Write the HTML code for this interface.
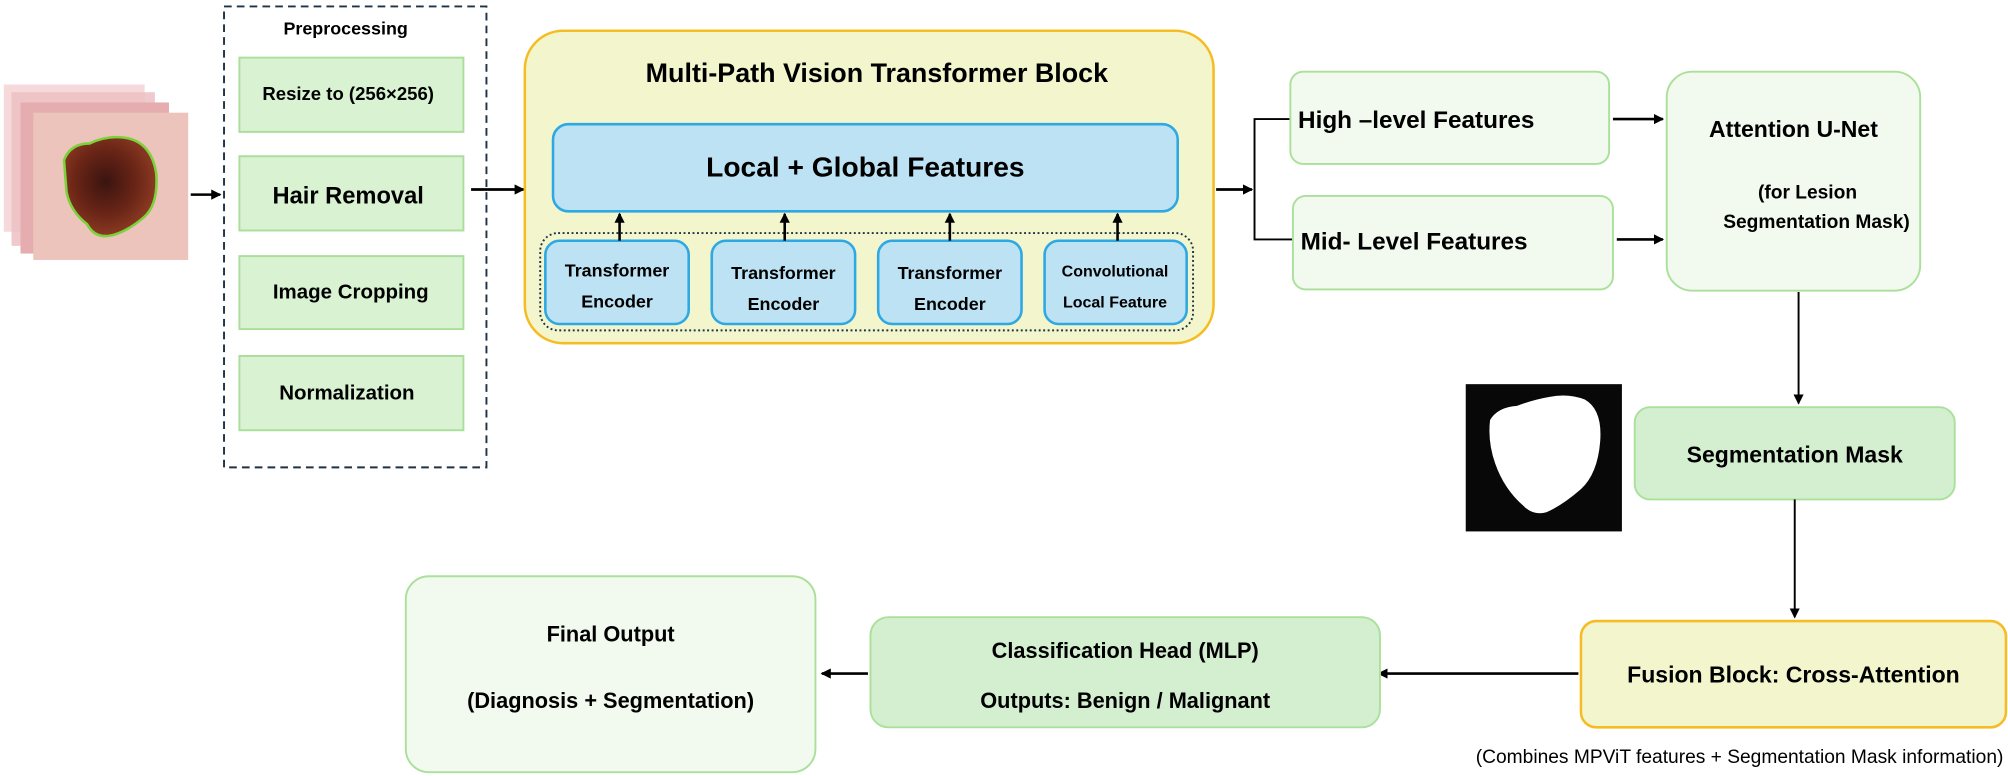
<!DOCTYPE html>
<html><head><meta charset="utf-8"><style>
html,body{margin:0;padding:0;background:#fff;}
svg{display:block;font-family:"Liberation Sans",sans-serif;font-weight:bold;}
</style></head><body>
<svg width="2008" height="776" viewBox="0 0 1568.6 606" preserveAspectRatio="none" xmlns="http://www.w3.org/2000/svg">
<defs>
<marker id="ah" markerWidth="8" markerHeight="8" refX="7" refY="4" orient="auto" markerUnits="userSpaceOnUse"><path d="M0,0 L8,4 L0,8 z" fill="#000"/></marker>
<radialGradient id="les" cx="0.45" cy="0.45" r="0.55"><stop offset="0" stop-color="#3a1410"/><stop offset="0.6" stop-color="#6a2516"/><stop offset="1" stop-color="#8b3a22"/></radialGradient>
</defs>
<!-- skin images -->
<rect x="3" y="66" width="110" height="115" fill="#f2d0d2" opacity="0.8"/>
<rect x="9" y="72" width="112" height="120" fill="#ecc0c3" opacity="0.85"/>
<rect x="16" y="80" width="116" height="118" fill="#e5adb0"/>
<rect x="26" y="88" width="121" height="115" fill="#ecc4bb"/>
<path d="M50,125 Q55,112 70,112 Q85,105 100,108 Q118,112 122,135 Q124,160 112,170 Q100,180 90,183 Q75,188 68,175 Q55,165 52,150 Z" fill="url(#les)" stroke="#7bd23a" stroke-width="2"/>
<line x1="149" y1="152" x2="172" y2="152" stroke="#000" stroke-width="2" marker-end="url(#ah)"/>
<!-- preprocessing -->
<rect x="175" y="5" width="205" height="360" fill="none" stroke="#1f3346" stroke-width="1.5" stroke-dasharray="6,4"/>
<text x="270" y="27" font-size="14" text-anchor="middle">Preprocessing</text>
<g fill="#d8f2d2" stroke="#a9de9b" stroke-width="1.5">
<rect x="187" y="45" width="175" height="58"/>
<rect x="187" y="122" width="175" height="58"/>
<rect x="187" y="200" width="175" height="57"/>
<rect x="187" y="278" width="175" height="58"/>
</g>
<text x="272" y="78" font-size="14.5" text-anchor="middle">Resize to (256×256)</text>
<text x="272" y="159" font-size="18.5" text-anchor="middle">Hair Removal</text>
<text x="274" y="233" font-size="16" text-anchor="middle">Image Cropping</text>
<text x="271" y="312" font-size="16" text-anchor="middle">Normalization</text>
<line x1="368" y1="148" x2="409" y2="148" stroke="#000" stroke-width="2.2" marker-end="url(#ah)"/>
<!-- MPViT -->
<rect x="410" y="24" width="538" height="244" rx="30" fill="#f3f6cd" stroke="#f5bd23" stroke-width="2"/>
<text x="685" y="64" font-size="21" text-anchor="middle">Multi-Path Vision Transformer Block</text>
<rect x="432" y="97" width="488" height="68" rx="12" fill="#bde2f4" stroke="#2da8e2" stroke-width="2"/>
<text x="676" y="138" font-size="22" text-anchor="middle">Local + Global Features</text>
<rect x="422" y="182" width="510" height="76" rx="14" fill="none" stroke="#1f3346" stroke-width="1.5" stroke-dasharray="1.5,2"/>
<g fill="#bde2f4" stroke="#2da8e2" stroke-width="2">
<rect x="426" y="188" width="112" height="65" rx="11"/>
<rect x="556" y="188" width="112" height="65" rx="11"/>
<rect x="686" y="188" width="112" height="65" rx="11"/>
<rect x="816" y="188" width="111" height="65" rx="11"/>
</g>
<g font-size="14" text-anchor="middle">
<text x="482" y="216">Transformer</text><text x="482" y="240">Encoder</text>
<text x="612" y="218">Transformer</text><text x="612" y="242">Encoder</text>
<text x="742" y="218">Transformer</text><text x="742" y="242">Encoder</text>
<text x="871" y="216" font-size="12.5">Convolutional</text><text x="871" y="240" font-size="12.5">Local Feature</text>
</g>
<g stroke="#000" stroke-width="2" marker-end="url(#ah)">
<line x1="484" y1="188" x2="484" y2="167"/>
<line x1="613" y1="188" x2="613" y2="167"/>
<line x1="742" y1="188" x2="742" y2="167"/>
<line x1="873" y1="188" x2="873" y2="167"/>
</g>
<line x1="950" y1="148" x2="978" y2="148" stroke="#000" stroke-width="2.2" marker-end="url(#ah)"/>
<path d="M1008,93 L980,93 L980,187 L1010,187" fill="none" stroke="#000" stroke-width="1.5"/>
<!-- features -->
<g fill="#f2f9ee" stroke="#abe09b" stroke-width="1.5">
<rect x="1008" y="56" width="249" height="72" rx="10"/>
<rect x="1010" y="153" width="250" height="73" rx="10"/>
<rect x="1302" y="56" width="198" height="171" rx="20"/>
<rect x="317" y="450" width="320" height="153" rx="18"/>
</g>
<text x="1014" y="100" font-size="19">High –level Features</text>
<text x="1016" y="195" font-size="19">Mid- Level Features</text>
<line x1="1260" y1="93" x2="1299" y2="93" stroke="#000" stroke-width="2" marker-end="url(#ah)"/>
<line x1="1263" y1="187" x2="1299" y2="187" stroke="#000" stroke-width="2" marker-end="url(#ah)"/>
<text x="1401" y="107" font-size="18" text-anchor="middle">Attention U-Net</text>
<text x="1412" y="155" font-size="15" text-anchor="middle">(for Lesion</text>
<text x="1419" y="178" font-size="15" text-anchor="middle">Segmentation Mask)</text>
<line x1="1405" y1="228" x2="1405" y2="315" stroke="#000" stroke-width="1.5" marker-end="url(#ah)"/>
<!-- mask -->
<rect x="1145" y="300" width="122" height="115" fill="#080808"/>
<path d="M1164,328 Q1170,318 1185,317 Q1198,312 1210,310 Q1225,307 1238,312 Q1252,320 1250,345 Q1248,370 1235,382 Q1220,395 1208,400 Q1198,403 1190,395 Q1175,382 1168,362 Q1162,345 1164,328 Z" fill="#fff"/>
<rect x="1277" y="318" width="250" height="72" rx="12" fill="#d3efd0" stroke="#abe09b" stroke-width="1.5"/>
<text x="1402" y="361" font-size="18" text-anchor="middle">Segmentation Mask</text>
<line x1="1402" y1="390" x2="1402" y2="482" stroke="#000" stroke-width="1.5" marker-end="url(#ah)"/>
<rect x="1235" y="485" width="332" height="83" rx="12" fill="#f3f6cd" stroke="#f5bd23" stroke-width="2"/>
<text x="1401" y="533" font-size="18" text-anchor="middle">Fusion Block: Cross-Attention</text>
<text x="1565" y="596" font-size="15" font-weight="normal" text-anchor="end">(Combines MPViT features + Segmentation Mask information)</text>
<line x1="1233" y1="526" x2="1077" y2="526" stroke="#000" stroke-width="2" marker-end="url(#ah)"/>
<rect x="680" y="482" width="398" height="86" rx="14" fill="#d3efd0" stroke="#abe09b" stroke-width="1.5"/>
<text x="879" y="514" font-size="17" text-anchor="middle">Classification Head (MLP)</text>
<text x="879" y="553" font-size="17" text-anchor="middle">Outputs: Benign / Malignant</text>
<line x1="678" y1="526" x2="642" y2="526" stroke="#000" stroke-width="2" marker-end="url(#ah)"/>
<text x="477" y="501" font-size="17" text-anchor="middle">Final Output</text>
<text x="477" y="553" font-size="17" text-anchor="middle">(Diagnosis + Segmentation)</text>
</svg>
</body></html>
